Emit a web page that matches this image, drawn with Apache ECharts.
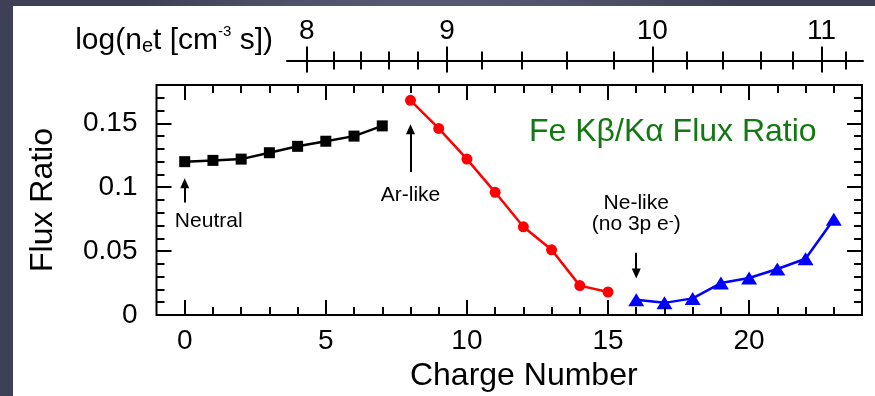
<!DOCTYPE html>
<html>
<head>
<meta charset="utf-8">
<script src="https://cdn.jsdelivr.net/npm/echarts@6/dist/echarts.min.js"></script>
<style>html,body{margin:0;padding:0;background:#3c3e52;}#c{width:875px;height:396px;}</style>
</head>
<body>
<div id="c"></div>
<script>
// ---------- data ----------
const chargeBlack = [0, 1, 2, 3, 4, 5, 6, 7];
const fluxBlack   = [0.120, 0.121, 0.122, 0.127, 0.132, 0.136, 0.140, 0.148];
const chargeRed   = [8, 9, 10, 11, 12, 13, 14, 15];
const fluxRed     = [0.168, 0.146, 0.122, 0.096, 0.069, 0.051, 0.023, 0.018];
const chargeBlue  = [16, 17, 18, 19, 20, 21, 22, 23];
const fluxBlue    = [0.012, 0.0095, 0.013, 0.025, 0.029, 0.036, 0.044, 0.075];

const xMajorTicks = [0, 5, 10, 15, 20];
const xMinorTicks = [1, 2, 3, 4, 6, 7, 8, 9, 11, 12, 13, 14, 16, 17, 18, 19, 21, 22, 23];
const yMajorTicks = [0, 0.05, 0.1, 0.15];
const yMinorTicks = [0.01, 0.02, 0.03, 0.04, 0.06, 0.07, 0.08, 0.09, 0.11, 0.12, 0.13, 0.14, 0.16, 0.17];

// top axis: log(n_e t) values and the charge number where each falls
const logMajorLabels = ['8', '9', '10', '11'];
const logMajorCharge = [4.322, 9.284, 16.548, 22.537];
const logMinorCharge = [5.265, 6.236, 7.214, 8.256, 10.524, 11.917, 13.511, 15.187, 17.764, 19.05, 20.386, 21.53, 23.398];

// annotations (data coordinates)
const arrowLines = [
  [[0, 0.088], [0, 0.1032]],
  [[8, 0.112], [8, 0.1453]],
  [[16, 0.0487], [16, 0.0325]]
];
const annoNeutral = [0.85, 0.0737];
const annoAr = [8, 0.0935];
const annoNe = [16, 0.079];
const annoTitle = [12.2, 0.1434];

// ---------- layout ----------
const W = 875, H = 396;
const plotL = 156.5, plotR = 862, plotT = 85, plotB = 315;
const xMin = -1, xMax = 24, yMin = 0, yMax = 0.18;
const topAxisLeft = 287, topAxisY = 60.5;
const topMin = xMin + (topAxisLeft - plotL) * (xMax - xMin) / (plotR - plotL);
const FONT = '"Liberation Sans", Arial, Helvetica, sans-serif';
const MAJOR_LEN = 15, MINOR_LEN = 8;
// tick lengths expressed in axis units so the library scales place them
const dxPerPx = (xMax - xMin) / (plotR - plotL);
const dyPerPx = (yMax - yMin) / (plotB - plotT);

function tickStyle() { return {color: '#000', width: 2}; }
function xAx(o) {
  return Object.assign({
    type: 'value', min: xMin, max: xMax, gridIndex: 0, position: 'bottom',
    axisLine: {show: false, onZero: false}, splitLine: {show: false},
    axisTick: {show: false}, axisLabel: {show: false}
  }, o);
}
function ticks(vals, len, inside) {
  return {show: true, customValues: vals.slice(), length: len, inside: inside, lineStyle: tickStyle()};
}
const allLog = logMajorCharge.concat(logMinorCharge);

// frame ticks as mark-line segments in data space
const frameSegs = [];
function addX(vals, len) {
  vals.forEach(v => {
    frameSegs.push([{coord: [v, yMin]}, {coord: [v, yMin + len * dyPerPx]}]);
    frameSegs.push([{coord: [v, yMax]}, {coord: [v, yMax - len * dyPerPx]}]);
  });
}
function addY(vals, len) {
  vals.forEach(v => {
    frameSegs.push([{coord: [xMin, v]}, {coord: [xMin + len * dxPerPx, v]}]);
    frameSegs.push([{coord: [xMax, v]}, {coord: [xMax - len * dxPerPx, v]}]);
  });
}
addX(xMajorTicks, MAJOR_LEN); addX(xMinorTicks, MINOR_LEN);
addY(yMajorTicks, MAJOR_LEN); addY(yMinorTicks, MINOR_LEN);

const option = {
  animation: false,
  backgroundColor: {
    type: 'radial', x: 0.5, y: 0.5, r: 0.9,
    colorStops: [{offset: 0, color: '#74768e'}, {offset: 1, color: '#3e4056'}]
  },
  textStyle: {fontFamily: FONT},
  graphic: [{
    type: 'rect', silent: true, z: -10,
    shape: {x: 13, y: 6, width: W - 13, height: H - 6},
    style: {fill: '#ffffff'}
  }],
  grid: [
    {left: plotL, right: W - plotR, top: plotT, bottom: H - plotB, outerBoundsMode: 'none',
     show: true, borderColor: '#000', borderWidth: 2, backgroundColor: 'rgba(255,255,255,0)'},
    {left: topAxisLeft, right: W - plotR - 1, top: topAxisY, height: 20, outerBoundsMode: 'none'}
  ],
  xAxis: [
    xAx({axisLabel: {show: true, customValues: xMajorTicks, margin: 12, fontSize: 28, color: '#000', fontFamily: FONT},
         name: 'Charge Number', nameLocation: 'middle', nameGap: 45,
         nameTextStyle: {fontSize: 32, color: '#000', fontFamily: FONT, padding: [0, 0, 0, 29]}}),
    // top log(n_e t) axis
    xAx({gridIndex: 1, position: 'top', min: topMin, max: xMax,
         axisLine: {show: true, onZero: false, lineStyle: {color: '#000', width: 2}},
         axisTick: ticks(allLog, 9, false),
         axisLabel: {show: true, customValues: logMajorCharge, margin: 15, fontSize: 28, color: '#000', fontFamily: FONT,
           formatter: function (v) {
             let best = 0;
             for (let i = 1; i < logMajorCharge.length; i++) {
               if (Math.abs(logMajorCharge[i] - v) < Math.abs(logMajorCharge[best] - v)) best = i;
             }
             return logMajorLabels[best];
           }},
         name: 'log(n{sub|e}t [cm{sup|-3} s])', nameLocation: 'start', nameGap: 14,
         nameTextStyle: {fontSize: 30, color: '#000', fontFamily: FONT, verticalAlign: 'bottom', align: 'right',
           lineHeight: 32, padding: [0, 0, 4, 0],
           rich: {
             sub: {fontSize: 20, lineHeight: 20, verticalAlign: 'bottom', color: '#000', fontFamily: FONT},
             sup: {fontSize: 15, lineHeight: 24, verticalAlign: 'top', color: '#000', fontFamily: FONT}
           }}}),
    xAx({gridIndex: 1, position: 'top', min: topMin, max: xMax, axisTick: ticks(allLog, 9, true)}),
    xAx({gridIndex: 1, position: 'top', min: topMin, max: xMax, axisTick: ticks(logMajorCharge, 14, false)}),
    xAx({gridIndex: 1, position: 'top', min: topMin, max: xMax, axisTick: ticks(logMajorCharge, 12, true)})
  ],
  yAxis: [
    {type: 'value', min: yMin, max: yMax, gridIndex: 0, position: 'left',
     axisLine: {show: false, onZero: false}, splitLine: {show: false}, axisTick: {show: false},
     axisLabel: {show: true, customValues: yMajorTicks, margin: 19, fontSize: 28, color: '#000', fontFamily: FONT},
     name: 'Flux Ratio', nameLocation: 'middle', nameGap: 97, nameRotate: 90,
     nameTextStyle: {fontSize: 32, color: '#000', fontFamily: FONT}},
    {type: 'value', gridIndex: 1, show: false, min: 0, max: 1, axisLine: {onZero: false}}
  ],
  series: [
    {type: 'line', name: 'neutral', xAxisIndex: 0, yAxisIndex: 0,
     data: chargeBlack.map((c, i) => [c, fluxBlack[i]]),
     symbol: 'rect', symbolSize: 11, itemStyle: {color: '#000'},
     lineStyle: {color: '#000', width: 2.5}, z: 3,
     markLine: {
       silent: true, symbol: ['none', 'none'], animation: false,
       lineStyle: {color: '#000', width: 2, type: 'solid'},
       label: {show: false}, emphasis: {disabled: true},
       data: frameSegs
     }},
    {type: 'line', name: 'ar', xAxisIndex: 0, yAxisIndex: 0,
     data: chargeRed.map((c, i) => [c, fluxRed[i]]),
     symbol: 'circle', symbolSize: 11, itemStyle: {color: '#ff0000'},
     lineStyle: {color: '#ff0000', width: 2.5}, z: 3},
    {type: 'line', name: 'ne', xAxisIndex: 0, yAxisIndex: 0,
     data: chargeBlue.map((c, i) => [c, fluxBlue[i]]),
     symbol: 'triangle', symbolSize: [16, 13], itemStyle: {color: '#0000ff'},
     lineStyle: {color: '#0000ff', width: 2.5}, z: 3},
    {type: 'scatter', name: 'annotations', xAxisIndex: 0, yAxisIndex: 0, symbolSize: 0, silent: true, z: 4,
     itemStyle: {opacity: 1},
     data: [
       {value: annoNeutral, label: {show: true, position: 'inside', formatter: 'Neutral', fontSize: 21, color: '#000', fontFamily: FONT}},
       {value: annoAr, label: {show: true, position: 'inside', formatter: 'Ar-like', fontSize: 21, color: '#000', fontFamily: FONT}},
       {value: annoNe, label: {show: true, position: 'inside', formatter: '{a|Ne-like}\n{a|(no 3p e}{s|-}{a|)}',
         rich: {a: {fontSize: 21, lineHeight: 21, color: '#000', fontFamily: FONT},
                s: {fontSize: 15, lineHeight: 21, verticalAlign: 'top', color: '#000', fontFamily: FONT}}}},
       {value: annoTitle, label: {show: true, position: 'right', distance: 0, formatter: 'Fe K\u03b2/K\u03b1 Flux Ratio',
         fontSize: 32, color: '#137813', fontFamily: FONT}}
     ],
     markLine: {
       silent: true, symbol: ['none', 'triangle'], symbolSize: [9, 10],
       lineStyle: {color: '#000', width: 2, type: 'solid'},
       label: {show: false}, emphasis: {disabled: true},
       data: arrowLines.map(l => [{coord: l[0]}, {coord: l[1]}])
     }}
  ]
};

const chart = echarts.init(document.getElementById('c'), null, {renderer: 'canvas'});
chart.setOption(option);
</script>
</body>
</html>
